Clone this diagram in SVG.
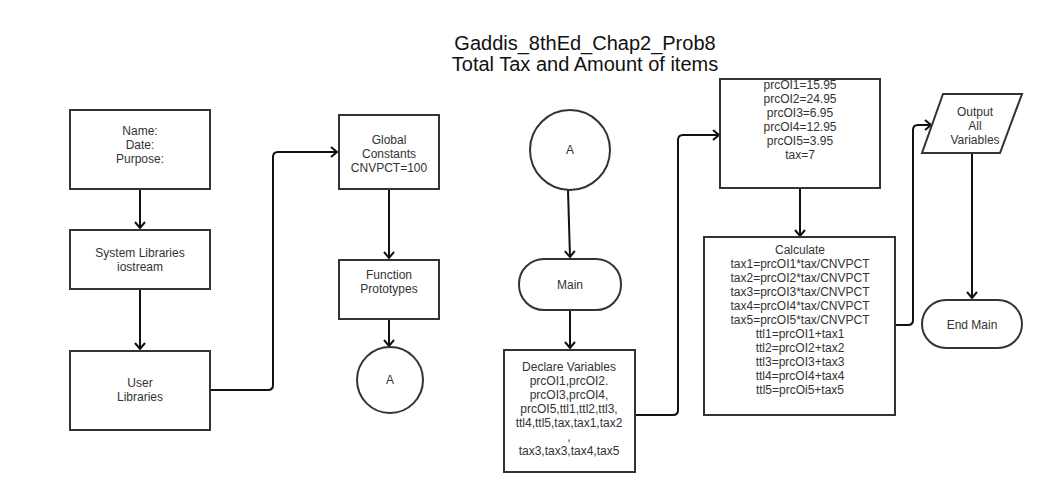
<svg xmlns="http://www.w3.org/2000/svg" width="1048" height="501" viewBox="0 0 1048 501">
<defs>
<marker id="arr" markerUnits="userSpaceOnUse" markerWidth="14" markerHeight="14" viewBox="-8 -7 10 14" refX="0" refY="0" orient="auto">
<path d="M-6,-5 L0,0 L-6,5" fill="none" stroke="#111" stroke-width="2"/>
</marker>
</defs>
<style>
.box{fill:#fff;stroke:#333;stroke-width:2}
.t{font-family:"Liberation Sans",Arial,sans-serif;font-size:12px;fill:#333;text-anchor:middle;dominant-baseline:central}
.title{font-family:"Liberation Sans",Arial,sans-serif;font-size:20px;fill:#111;text-anchor:middle}
.c{fill:none;stroke:#111;stroke-width:2;marker-end:url(#arr)}
</style>
<rect width="1048" height="501" fill="#fff"/>
<g id="title">
<text class="title" x="585" y="50">Gaddis_8thEd_Chap2_Prob8</text>
<text class="title" x="585" y="71">Total Tax and Amount of items</text>
</g>
<g id="connectors">
<path class="c" d="M140,189 V228"/>
<path class="c" d="M140,289 V349"/>
<path class="c" d="M210,390 H268 Q273,390 273,385 V157 Q273,152 278,152 H337"/>
<path class="c" d="M389,189 V258"/>
<path class="c" d="M389,319 V346"/>
<path class="c" d="M568,190 L570,257"/>
<path class="c" d="M570,310 V348"/>
<path class="c" d="M635,415 H673 Q678,415 678,410 V140 Q678,135 683,135 H719"/>
<path class="c" d="M800,188 V236"/>
<path class="c" d="M895,325 H908 Q913,325 913,320 V130 Q913,125 918,125 H931"/>
<path class="c" d="M972,153 V298"/>
</g>
<g id="n_header">
<rect class="box" x="70" y="110" width="140" height="79"/>
<text class="t" x="140" y="131">Name:</text>
<text class="t" x="140" y="145">Date:</text>
<text class="t" x="140" y="159">Purpose:</text>
</g>
<g id="n_syslib">
<rect class="box" x="70" y="230" width="140" height="59"/>
<text class="t" x="140" y="253">System Libraries</text>
<text class="t" x="140" y="267">iostream</text>
</g>
<g id="n_userlib">
<rect class="box" x="70" y="351" width="140" height="79"/>
<text class="t" x="140" y="383">User</text>
<text class="t" x="140" y="397">Libraries</text>
</g>
<g id="n_global">
<rect class="box" x="339" y="115" width="100" height="74"/>
<text class="t" x="389" y="140">Global</text>
<text class="t" x="389" y="154">Constants</text>
<text class="t" x="389" y="168">CNVPCT=100</text>
</g>
<g id="n_proto">
<rect class="box" x="339" y="260" width="100" height="59"/>
<text class="t" x="389" y="275">Function</text>
<text class="t" x="389" y="289">Prototypes</text>
</g>
<g id="n_a1">
<circle class="box" cx="390" cy="380" r="33"/>
<text class="t" x="390" y="380">A</text>
</g>
<g id="n_a2">
<circle class="box" cx="570" cy="150" r="40"/>
<text class="t" x="570" y="150">A</text>
</g>
<g id="n_main">
<rect class="box" x="519" y="259" width="102" height="51" rx="25" ry="25"/>
<text class="t" x="570" y="285">Main</text>
</g>
<g id="n_declare">
<rect class="box" x="504" y="350" width="131" height="122"/>
<text class="t" x="569" y="367">Declare Variables</text>
<text class="t" x="569" y="381">prcOI1,prcOI2.</text>
<text class="t" x="569" y="395">prcOI3,prcOI4,</text>
<text class="t" x="569" y="409">prcOI5,ttl1,ttl2,ttl3,</text>
<text class="t" x="569" y="423">ttl4,ttl5,tax,tax1,tax2</text>
<text class="t" x="569" y="437">,</text>
<text class="t" x="569" y="451">tax3,tax3,tax4,tax5</text>
</g>
<g id="n_values">
<rect class="box" x="720" y="79" width="160" height="109"/>
<text class="t" x="800" y="85">prcOI1=15.95</text>
<text class="t" x="800" y="99">prcOI2=24.95</text>
<text class="t" x="800" y="113">prcOI3=6.95</text>
<text class="t" x="800" y="127">prcOI4=12.95</text>
<text class="t" x="800" y="141">prcOI5=3.95</text>
<text class="t" x="800" y="155">tax=7</text>
</g>
<g id="n_calc">
<rect class="box" x="704" y="237" width="191" height="178"/>
<text class="t" x="800" y="250">Calculate</text>
<text class="t" x="800" y="264">tax1=prcOI1*tax/CNVPCT</text>
<text class="t" x="800" y="278">tax2=prcOI2*tax/CNVPCT</text>
<text class="t" x="800" y="292">tax3=prcOI3*tax/CNVPCT</text>
<text class="t" x="800" y="306">tax4=prcOI4*tax/CNVPCT</text>
<text class="t" x="800" y="320">tax5=prcOI5*tax/CNVPCT</text>
<text class="t" x="800" y="334">ttl1=prcOI1+tax1</text>
<text class="t" x="800" y="348">ttl2=prcOI2+tax2</text>
<text class="t" x="800" y="362">ttl3=prcOI3+tax3</text>
<text class="t" x="800" y="376">ttl4=prcOI4+tax4</text>
<text class="t" x="800" y="390">ttl5=prcOi5+tax5</text>
</g>
<g id="n_output">
<polygon class="box" points="943,94 1022,94 1000,153 922,153"/>
<text class="t" x="975" y="112">Output</text>
<text class="t" x="975" y="126">All</text>
<text class="t" x="975" y="140">Variables</text>
</g>
<g id="n_end">
<rect class="box" x="922" y="300" width="100" height="48" rx="24" ry="24"/>
<text class="t" x="972" y="325">End Main</text>
</g>
</svg>
